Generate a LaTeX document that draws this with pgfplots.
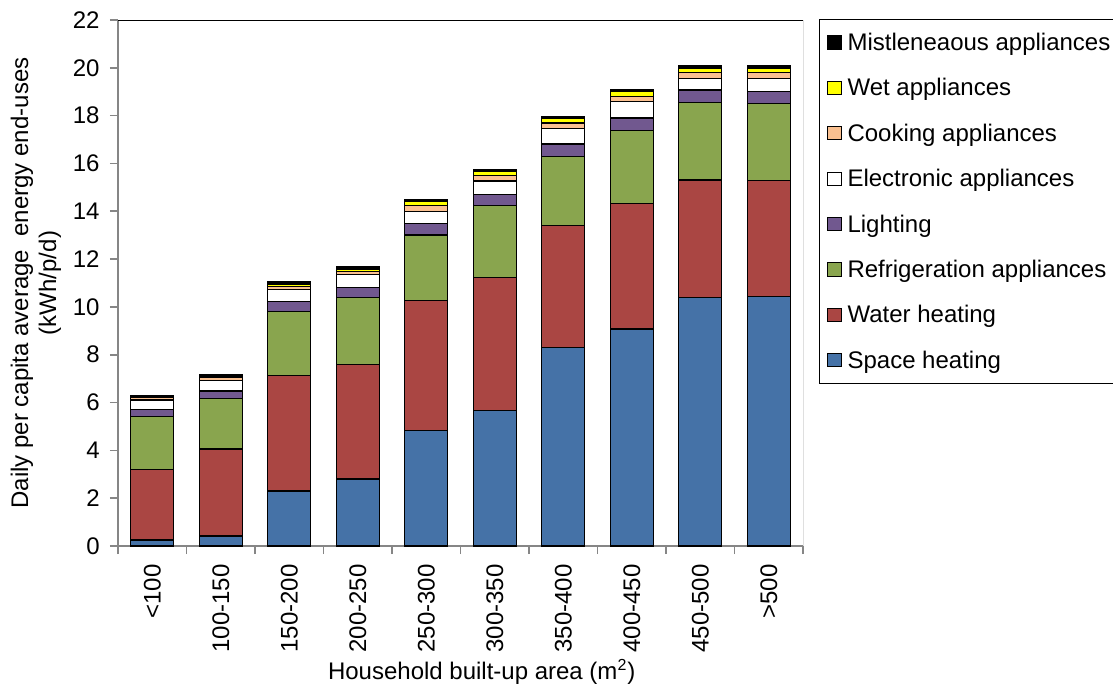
\documentclass[border=0pt]{standalone}
\usepackage{fontspec}
\setmainfont{Liberation Sans}
\usepackage{pgfplots}
\usepackage{pgfplotstable}
\pgfplotsset{compat=1.18}

\definecolor{spaceC}{RGB}{69,114,167}
\definecolor{waterC}{RGB}{170,70,67}
\definecolor{fridgeC}{RGB}{137,165,78}
\definecolor{lightC}{RGB}{113,88,143}
\definecolor{cookC}{RGB}{250,192,144}
\definecolor{wetC}{RGB}{255,255,0}
\definecolor{axisgray}{RGB}{134,134,134}

% x: 0 = <100 ... 9 = >500
\pgfplotstableread{
x  space water fridge light elec cook wet  misc
0  0.25  2.94  2.21   0.30  0.41 0.09 0.03 0.08
1  0.42  3.64  2.12   0.30  0.44 0.12 0.04 0.09
2  2.30  4.84  2.68   0.42  0.49 0.11 0.11 0.09
3  2.80  4.80  2.81   0.41  0.53 0.13 0.10 0.09
4  4.83  5.45  2.73   0.48  0.51 0.24 0.16 0.10
5  5.66  5.58  2.99   0.46  0.58 0.21 0.17 0.10
6  8.31  5.09  2.90   0.51  0.65 0.23 0.18 0.08
7  9.08  5.24  3.06   0.52  0.69 0.21 0.20 0.09
8  10.41 4.90  3.24   0.52  0.50 0.25 0.15 0.12
9  10.43 4.85  3.23   0.51  0.53 0.27 0.15 0.12
}\enduse

\pgfplotsset{
  sq/.style={legend image code/.code={
    \draw[##1,line width=0.5pt] (0pt,-3.3pt) rectangle (6.6pt,3.3pt);}},
}

\begin{document}
\fontsize{12}{14}\selectfont
\begin{tikzpicture}[font=\fontsize{12}{14}\selectfont]
\begin{axis}[
    at={(0,0)}, anchor=south west,
    scale only axis,
    width=342.5pt, height=263pt,
    ybar stacked,
    bar width=0.63,
    xmin=-0.5, xmax=9.5,
    ymin=0, ymax=22,
    ytick={0,2,...,22},
    xtick={0,...,9},
    xticklabels={<100,100-150,150-200,200-250,250-300,300-350,350-400,400-450,450-500,>500},
    minor xtick={-0.5,0.5,...,9.5},
    axis lines*=left,
    axis line style={draw=axisgray, line width=0.8pt},
    tick align=outside,
    major x tick style={draw=none},
    minor tick length=4pt,
    major tick length=4pt,
    every tick/.style={draw=axisgray, line width=0.8pt},
    /pgf/number format/assume math mode=true,
    xticklabel style={rotate=90, anchor=east, inner sep=0pt},
    xticklabel shift=5pt,
    yticklabel style={inner sep=0pt},
    yticklabel shift=5pt,
    ylabel={Daily per capita average\ \ energy end-uses\\(kWh/p/d)},
    ylabel style={at={(axis description cs:-0.12,0.5)}, anchor=center, align=center},
    xlabel={Household built-up area (m\textsuperscript{2})},
    xlabel style={at={(axis description cs:0.531,-0.24)}, anchor=center},
    reverse legend,
    legend cell align=left,
    legend style={at={(axis description cs:1.023,1.002)}, anchor=north west,
      draw=black, line width=0.6pt, inner xsep=4pt, inner ysep=3.5pt,
      nodes={inner xsep=1.5pt, inner ysep=2pt, text height=10pt, text depth=2pt},
      /tikz/every odd column/.append style={column sep=1.5pt},
      row sep=6.7pt},
    every axis plot/.append style={draw=black, line width=0.6pt},
]
\addplot[fill=spaceC, sq] table[x=x, y=space] {\enduse};
\addplot[fill=waterC, sq] table[x=x, y=water] {\enduse};
\addplot[fill=fridgeC, sq] table[x=x, y=fridge] {\enduse};
\addplot[fill=lightC, sq] table[x=x, y=light] {\enduse};
\addplot[fill=white, sq] table[x=x, y=elec] {\enduse};
\addplot[fill=cookC, sq] table[x=x, y=cook] {\enduse};
\addplot[fill=wetC, sq] table[x=x, y=wet] {\enduse};
\addplot[fill=black, sq] table[x=x, y=misc] {\enduse};
\legend{Space heating, Water heating, Refrigeration appliances, Lighting,
  Electronic appliances, Cooking appliances, Wet appliances, Mistleneaous appliances}
\draw[black, line width=0.5pt] (rel axis cs:0,1) -- (rel axis cs:1,1) -- (rel axis cs:1,0);
\end{axis}
\pgfresetboundingbox
\path[use as bounding box] (-59pt,-73pt) rectangle (497.5pt,273pt);
\end{tikzpicture}
\end{document}
